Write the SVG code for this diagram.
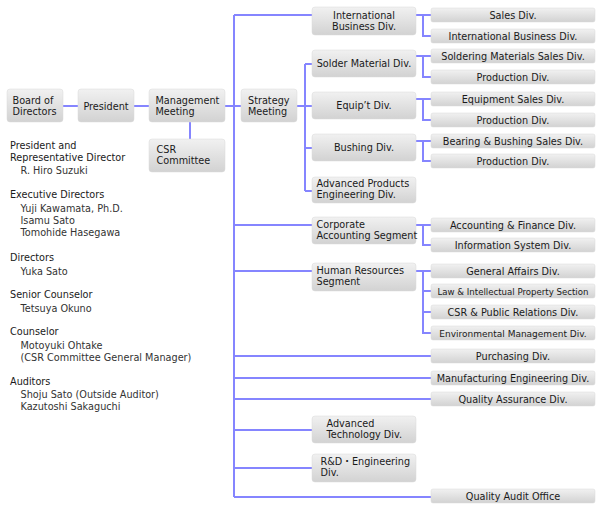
<svg xmlns="http://www.w3.org/2000/svg" width="600" height="510" viewBox="0 0 600 510">
<defs>
<linearGradient id="g" x1="0" y1="0" x2="0" y2="1">
<stop offset="0" stop-color="#f1f1f1"/>
<stop offset="1" stop-color="#d2d2d2"/>
</linearGradient>
</defs>
<style>
rect.b{fill:url(#g);stroke:#d8d8d8;stroke-width:0.5}
text{font-family:"DejaVu Sans","Noto Sans CJK JP",sans-serif;font-size:9.7px;fill:#1a1a1a}
.c{text-anchor:middle}
.s{font-size:8.6px}
.e{font-size:9px}
.n{fill:#333}
#connectors path{fill:none;stroke:#8585ff;stroke-width:2}
</style>
<rect width="600" height="510" fill="#fff"/>
<g id="connectors">
<path d="M63 106H78M134 106H149M225 106H241M190 122V139"/>
<path d="M234 15V497M234 15H312M234 225H312M234 271H312M234 356H431M234 378H431M234 399H431M234 430H312M234 468H312M234 497H431"/>
<path d="M297 106H312M305 64V191M305 64H312M305 148H312M305 191H312"/>
<path d="M416 15H431M423 15V36H431"/>
<path d="M416 56H431M423 56V77H431"/>
<path d="M416 99H431M423 99V120H431"/>
<path d="M416 141H431M423 141V161H431"/>
<path d="M416 225H431M423 225V245H431"/>
<path d="M416 271H431M423 271V333H431M423 291H431M423 312H431"/>
</g>
<g id="board"><rect class="b" x="7" y="89" width="56" height="33" rx="3"/><text x="12.5" y="104">Board of</text><text x="12.5" y="115">Directors</text></g>
<g id="president"><rect class="b" x="78" y="89" width="56" height="33" rx="3"/><text class="c" x="106" y="109.5">President</text></g>
<g id="management"><rect class="b" x="149" y="89" width="76" height="33" rx="3"/><text x="155.5" y="104">Management</text><text x="155.5" y="115">Meeting</text></g>
<g id="csr"><rect class="b" x="149" y="139" width="76" height="33" rx="3"/><text x="156.5" y="153">CSR</text><text x="156.5" y="164">Committee</text></g>
<g id="strategy"><rect class="b" x="241" y="89" width="56" height="33" rx="3"/><text x="248" y="104">Strategy</text><text x="248" y="115">Meeting</text></g>
<g id="intl"><rect class="b" x="312" y="7" width="104" height="28" rx="3"/><text class="c" x="364" y="18.5">International</text><text class="c" x="364" y="29.5">Business Div.</text></g>
<g id="solder"><rect class="b" x="312" y="50" width="104" height="27" rx="3"/><text class="c" x="364" y="67">Solder Material Div.</text></g>
<g id="equip"><rect class="b" x="312" y="92" width="104" height="27" rx="3"/><text class="c" x="364" y="109">Equip’t Div.</text></g>
<g id="bushing"><rect class="b" x="312" y="134" width="104" height="27" rx="3"/><text class="c" x="364" y="151">Bushing Div.</text></g>
<g id="advprod"><rect class="b" x="312" y="177" width="104" height="26" rx="3"/><text x="316.5" y="187">Advanced Products</text><text x="316.5" y="198">Engineering Div.</text></g>
<g id="corp"><rect class="b" x="312" y="217" width="104" height="27" rx="3"/><text x="316.5" y="228">Corporate</text><text x="316.5" y="239">Accounting Segment</text></g>
<g id="hr"><rect class="b" x="312" y="263" width="104" height="28" rx="3"/><text x="316.5" y="273.5">Human Resources</text><text x="316.5" y="284.5">Segment</text></g>
<g id="advtech"><rect class="b" x="312" y="416" width="104" height="27" rx="3"/><text x="326.5" y="427">Advanced</text><text x="326.5" y="438">Technology Div.</text></g>
<g id="rnd"><rect class="b" x="312" y="454" width="104" height="28" rx="3"/><text x="320.5" y="465">R&amp;D・Engineering</text><text x="320.5" y="476">Div.</text></g>
<g id="sales"><rect class="b" x="431" y="8" width="164" height="14" rx="2"/><text class="c" x="513" y="18.5">Sales Div.</text></g>
<g id="intlbiz"><rect class="b" x="431" y="29" width="164" height="14" rx="2"/><text class="c" x="513" y="39.5">International Business Div.</text></g>
<g id="soldsales"><rect class="b" x="431" y="49" width="164" height="14" rx="2"/><text class="c" x="513" y="59.5">Soldering Materials Sales Div.</text></g>
<g id="prod1"><rect class="b" x="431" y="70" width="164" height="14" rx="2"/><text class="c" x="513" y="80.5">Production Div.</text></g>
<g id="eqsales"><rect class="b" x="431" y="92" width="164" height="14" rx="2"/><text class="c" x="513" y="102.5">Equipment Sales Div.</text></g>
<g id="prod2"><rect class="b" x="431" y="113" width="164" height="14" rx="2"/><text class="c" x="513" y="123.5">Production Div.</text></g>
<g id="bearing"><rect class="b" x="431" y="134" width="164" height="14" rx="2"/><text class="c" x="513" y="144.5">Bearing &amp; Bushing Sales Div.</text></g>
<g id="prod3"><rect class="b" x="431" y="154" width="164" height="14" rx="2"/><text class="c" x="513" y="164.5">Production Div.</text></g>
<g id="acct"><rect class="b" x="431" y="218" width="164" height="14" rx="2"/><text class="c" x="513" y="228.5">Accounting &amp; Finance Div.</text></g>
<g id="infosys"><rect class="b" x="431" y="238" width="164" height="14" rx="2"/><text class="c" x="513" y="248.5">Information System Div.</text></g>
<g id="genaff"><rect class="b" x="431" y="264" width="164" height="14" rx="2"/><text class="c" x="513" y="274.5">General Affairs Div.</text></g>
<g id="law"><rect class="b" x="431" y="284" width="164" height="14" rx="2"/><text class="c s" x="513" y="294.5">Law &amp; Intellectual Property Section</text></g>
<g id="csrpr"><rect class="b" x="431" y="305" width="164" height="14" rx="2"/><text class="c" x="513" y="315.5">CSR &amp; Public Relations Div.</text></g>
<g id="env"><rect class="b" x="431" y="326" width="164" height="14" rx="2"/><text class="c e" x="513" y="336.5">Environmental Management Div.</text></g>
<g id="purch"><rect class="b" x="431" y="349" width="164" height="14" rx="2"/><text class="c" x="513" y="359.5">Purchasing Div.</text></g>
<g id="mfg"><rect class="b" x="431" y="371" width="164" height="14" rx="2"/><text class="c" x="513" y="381.5">Manufacturing Engineering Div.</text></g>
<g id="qa"><rect class="b" x="431" y="392" width="164" height="14" rx="2"/><text class="c" x="513" y="402.5">Quality Assurance Div.</text></g>
<g id="qao"><rect class="b" x="431" y="489" width="164" height="14" rx="2"/><text class="c" x="513" y="499.5">Quality Audit Office</text></g>
<g id="officers">
<text x="10" y="149">President and</text>
<text x="10" y="160.7">Representative Director</text>
<text class="n" x="20.5" y="174.3">R. Hiro Suzuki</text>
<text x="10" y="198.3">Executive Directors</text>
<text class="n" x="20.5" y="211.7">Yuji Kawamata, Ph.D.</text>
<text class="n" x="20.5" y="224">Isamu Sato</text>
<text class="n" x="20.5" y="236.3">Tomohide Hasegawa</text>
<text x="10" y="260.5">Directors</text>
<text class="n" x="20.5" y="274.5">Yuka Sato</text>
<text x="10" y="297.5">Senior Counselor</text>
<text class="n" x="20.5" y="311.5">Tetsuya Okuno</text>
<text x="10" y="335.3">Counselor</text>
<text class="n" x="20.5" y="349.3">Motoyuki Ohtake</text>
<text class="n" x="20.5" y="361">(CSR Committee General Manager)</text>
<text x="10" y="385">Auditors</text>
<text class="n" x="20.5" y="398.3">Shoju Sato (Outside Auditor)</text>
<text class="n" x="20.5" y="410">Kazutoshi Sakaguchi</text>
</g>
</svg>
